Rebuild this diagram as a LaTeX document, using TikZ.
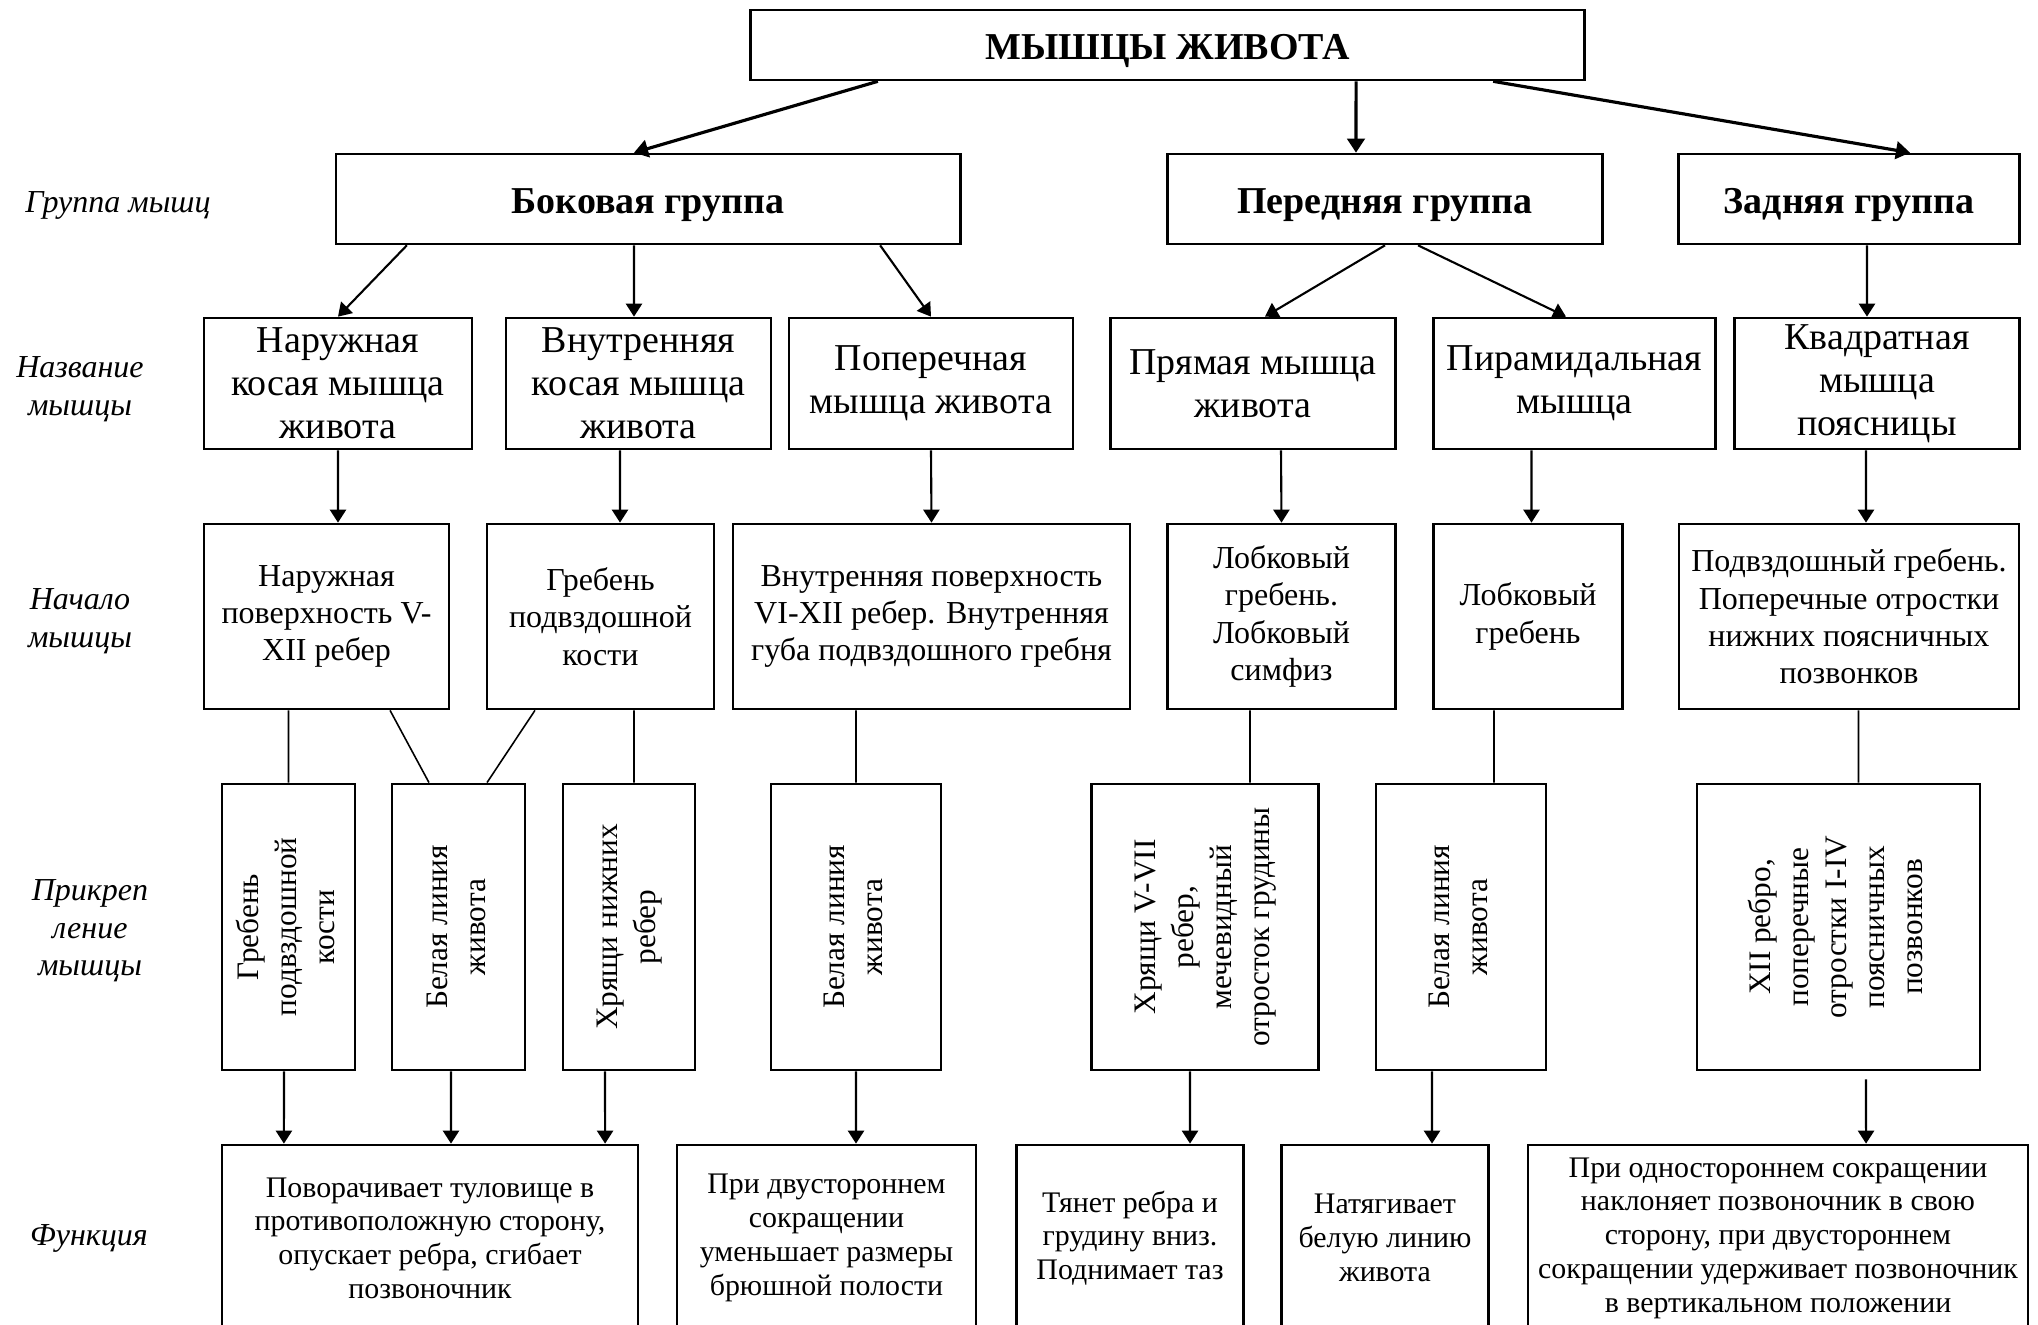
\documentclass[tikz,border=0pt]{standalone}
\usepackage{fontspec}
\setmainfont{Liberation Serif}
\usepackage{graphicx}
\usepackage{tikz}
\usetikzlibrary{arrows.meta}
\newcommand{\vtext}[1]{\rotatebox{90}{\begin{tabular}{@{}c@{}}#1\end{tabular}}}
\tikzset{
  box/.style={rectangle, draw=black, line width=0.75pt, align=center, inner sep=0pt},
  headbox/.style={box, font=\fontsize{10.8}{12.3}\selectfont\bfseries, minimum height=0.90cm, text height=0.85em, text depth=0pt},
  namebox/.style={box, font=\fontsize{10.8}{12.3}\selectfont, minimum height=1.31cm},
  origbox/.style={box, font=\fontsize{9.1}{10.6}\selectfont, minimum height=1.85cm},
  attbox/.style={box, font=\fontsize{8.9}{10.8}\selectfont, minimum height=2.86cm},
  funcbox/.style={box, font=\fontsize{8.5}{9.6}\selectfont, minimum height=1.86cm},
  rowlabel/.style={align=center, font=\fontsize{9.1}{10.7}\selectfont\itshape},
  arrow/.style={-{Triangle[length=3.7pt, width=4.6pt]}, line width=0.6pt},
  bigarrow/.style={-{Triangle[length=4pt, width=5pt]}, line width=0.9pt},
  link/.style={line width=0.45pt},
}
\begin{document}
\begin{tikzpicture}[x=0.01cm, y=-0.01cm]
  \useasboundingbox (0,0) rectangle (2038,1325);
  \node[headbox, minimum width=8.33cm, minimum height=0.70cm] (top) at (1167.5,45) {МЫШЦЫ ЖИВОТА};
  \node[headbox, minimum width=6.24cm] (lateral) at (648,199) {Боковая группа};
  \node[headbox, minimum width=4.35cm] (anterior) at (1385,199) {Передняя группа};
  \node[headbox, minimum width=3.41cm] (posterior) at (1849,199) {Задняя группа};
  \node[namebox, minimum width=2.68cm] (name1) at (338,383.5) {Наружная\\косая мышца\\живота};
  \node[namebox, minimum width=2.65cm] (name2) at (638.5,383.5) {Внутренняя\\косая мышца\\живота};
  \node[namebox, minimum width=2.84cm] (name3) at (931,383.5) {Поперечная\\мышца живота};
  \node[namebox, minimum width=2.85cm] (name4) at (1253,383.5) {Прямая мышца\\живота};
  \node[namebox, minimum width=2.82cm] (name5) at (1574.5,383.5) {Пирамидальная\\мышца};
  \node[namebox, minimum width=2.85cm] (name6) at (1877,383.5) {Квадратная\\мышца\\поясницы};
  \node[origbox, minimum width=2.45cm] (orig1) at (326.5,616.5) {Наружная\\поверхность V-\\XII ребер};
  \node[origbox, minimum width=2.27cm] (orig2) at (600.5,616.5) {Гребень\\подвздошной\\кости};
  \node[origbox, minimum width=3.97cm] (orig3) at (931.5,616.5) {Внутренняя поверхность\\VI-XII ребер. Внутренняя\\губа подвздошного гребня};
  \node[origbox, minimum width=2.28cm] (orig4) at (1281.5,616.5) {Лобковый\\гребень.\\Лобковый\\симфиз};
  \node[origbox, minimum width=1.89cm] (orig5) at (1528,616.5) {Лобковый\\гребень};
  \node[origbox, minimum width=3.40cm] (orig6) at (1849,616.5) {Подвздошный гребень.\\Поперечные отростки\\нижних поясничных\\позвонков};
  \node[attbox, minimum width=1.33cm] (att1) at (288.5,927) {\vtext{Гребень\\подвздошной\\кости}};
  \node[attbox, minimum width=1.33cm] (att2) at (458.5,927) {\vtext{Белая линия\\живота}};
  \node[attbox, minimum width=1.32cm] (att3) at (629,927) {\vtext{Хрящи нижних\\ребер}};
  \node[attbox, minimum width=1.70cm] (att4) at (856,927) {\vtext{Белая линия\\живота}};
  \node[attbox, minimum width=2.27cm] (att5) at (1205,927) {\vtext{Хрящи V-VII\\ребер,\\мечевидный\\отросток грудины}};
  \node[attbox, minimum width=1.70cm] (att6) at (1461,927) {\vtext{Белая линия\\живота}};
  \node[attbox, minimum width=2.83cm] (att7) at (1838.5,927) {\vtext{XII ребро,\\поперечные\\отростки I-IV\\поясничных\\позвонков}};
  \node[funcbox, minimum width=4.16cm] (func1) at (430,1238) {Поворачивает туловище в\\противоположную сторону,\\опускает ребра, сгибает\\позвоночник};
  \node[funcbox, minimum width=2.99cm] (func2) at (826.5,1238) {При двустороннем\\сокращении\\уменьшает размеры\\брюшной полости};
  \node[funcbox, minimum width=2.27cm] (func3) at (1130,1238) {Тянет ребра и\\грудину вниз.\\Поднимает таз};
  \node[funcbox, minimum width=2.07cm] (func4) at (1385,1238) {Натягивает\\белую линию\\живота};
  \node[funcbox, minimum width=5.00cm] (func5) at (1778,1238) {При одностороннем сокращении\\наклоняет позвоночник в свою\\сторону, при двустороннем\\сокращении удерживает позвоночник\\в вертикальном положении};
  \node[rowlabel] (lblgroup) at (118,205) {Группа мышц};
  \node[rowlabel] (lblname) at (80,389) {Название\\мышцы};
  \node[rowlabel] (lblorig) at (80,621) {Начало\\мышцы};
  \node[rowlabel] (lblatt) at (90,931) {Прикреп\\ление\\мышцы};
  \node[rowlabel] (lblfunc) at (89,1238) {Функция};
  \draw[bigarrow] ([xshift=-2.895cm]top.south) -- ([xshift=-0.14cm]lateral.north);
  \draw[bigarrow] ([xshift=1.885cm]top.south) -- ([xshift=-0.29cm]anterior.north);
  \draw[bigarrow] ([xshift=3.255cm]top.south) -- ([xshift=0.61cm]posterior.north);
  \draw[arrow] ([xshift=-2.41cm]lateral.south) -- (name1.north);
  \draw[arrow] ([xshift=-0.14cm]lateral.south) -- ([xshift=-0.045cm]name2.north);
  \draw[arrow] ([xshift=2.32cm]lateral.south) -- (name3.north);
  \draw[arrow] (anterior.south) -- ([xshift=0.12cm]name4.north);
  \draw[arrow] ([xshift=0.33cm]anterior.south) -- ([xshift=-0.085cm]name5.north);
  \draw[arrow] ([xshift=0.18cm]posterior.south) -- ([xshift=-0.1cm]name6.north);
  \draw[arrow] (name1.south) -- ([xshift=0.115cm]orig1.north);
  \draw[arrow] ([xshift=-0.185cm]name2.south) -- ([xshift=0.195cm]orig2.north);
  \draw[arrow] (name3.south) -- (orig3.north);
  \draw[arrow] ([xshift=0.28cm]name4.south) -- (orig4.north);
  \draw[arrow] ([xshift=-0.43cm]name5.south) -- ([xshift=0.035cm]orig5.north);
  \draw[arrow] ([xshift=-0.11cm]name6.south) -- ([xshift=0.17cm]orig6.north);
  \draw[link] ([xshift=-0.38cm]orig1.south) -- (att1.north);
  \draw[link] ([xshift=0.635cm]orig1.south) -- ([xshift=-0.295cm]att2.north);
  \draw[link] ([xshift=-0.655cm]orig2.south) -- ([xshift=0.285cm]att2.north);
  \draw[link] ([xshift=0.335cm]orig2.south) -- ([xshift=0.05cm]att3.north);
  \draw[link] ([xshift=-0.755cm]orig3.south) -- (att4.north);
  \draw[link] ([xshift=-0.315cm]orig4.south) -- ([xshift=0.45cm]att5.north);
  \draw[link] ([xshift=-0.34cm]orig5.south) -- ([xshift=0.33cm]att6.north);
  \draw[link] ([xshift=0.095cm]orig6.south) -- ([xshift=0.2cm]att7.north);
  \draw[arrow] ([xshift=-0.045cm]att1.south) -- ([xshift=-1.46cm]func1.north);
  \draw[arrow] ([xshift=-0.075cm]att2.south) -- ([xshift=0.21cm]func1.north);
  \draw[arrow] ([xshift=-0.24cm]att3.south) -- ([xshift=1.75cm]func1.north);
  \draw[arrow] (att4.south) -- ([xshift=0.295cm]func2.north);
  \draw[arrow] ([xshift=-0.15cm]att5.south) -- ([xshift=0.6cm]func3.north);
  \draw[arrow] ([xshift=-0.29cm]att6.south) -- ([xshift=0.47cm]func4.north);
  \draw[arrow] ([xshift=0.275cm, yshift=-0.08cm]att7.south) -- ([xshift=0.88cm]func5.north);
\end{tikzpicture}
\end{document}
